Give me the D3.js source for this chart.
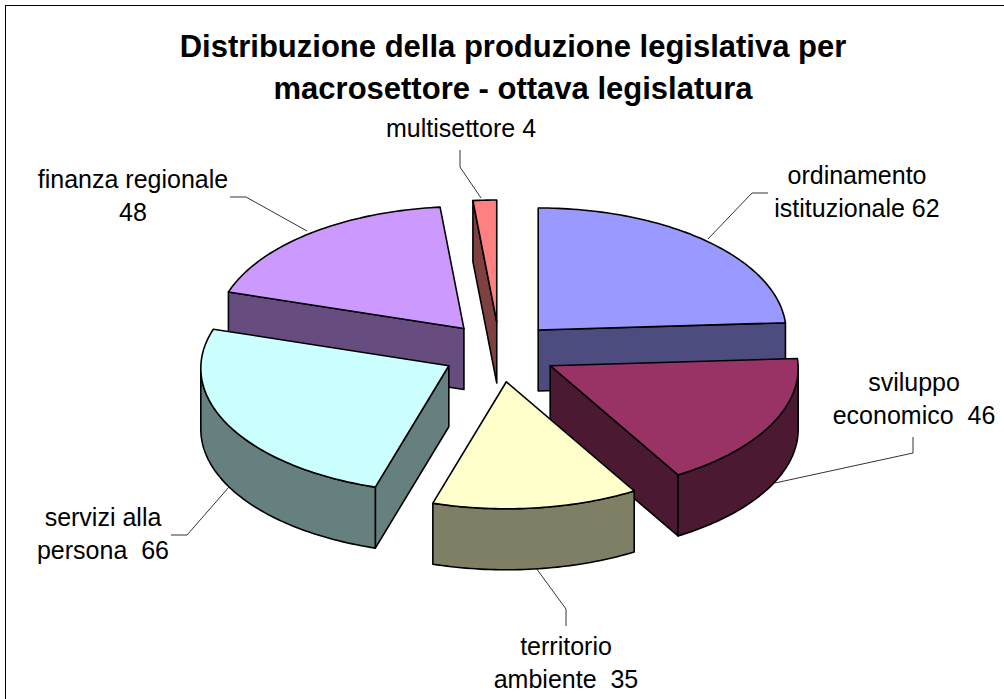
<!DOCTYPE html>
<html>
<head>
<meta charset="utf-8">
<script src="https://cdn.jsdelivr.net/npm/d3@7"></script>
<style>
  body { margin: 0; background: white; }
  text { font-family: "Liberation Sans", Arial, sans-serif; fill: black; white-space: pre; }
</style>
</head>
<body>
<div id="container"></div>
<script>
let w = 1004;
let h = 699;

// data, clockwise from 12 o'clock
let categories = ["ordinamento istituzionale", "sviluppo economico", "territorio ambiente", "servizi alla persona", "finanza regionale", "multisettore"];
let values = [62, 46, 35, 66, 48, 4];
let topColors = ["#9999ff", "#993366", "#ffffcc", "#ccffff", "#cc99ff", "#ff8080"];
let sideColors = ["#4c4c7f", "#4c1933", "#7f7f66", "#667f7f", "#664c7f", "#7f4040"];
let titleLines = ["Distribuzione della produzione legislativa per", "macrosettore - ottava legislatura"];
let labelLines = [
  ["ordinamento", "istituzionale 62"],
  ["sviluppo", "economico  46"],
  ["territorio", "ambiente  35"],
  ["servizi alla", "persona  66"],
  ["finanza regionale", "48"],
  ["multisettore 4"]
];

// layout of labels and leader lines
let labelX = [857, 914, 566, 103, 133, 461];
let labelY = [184, 391, 655, 526, 188, 137];
let leaders = [
  [[708, 239], [752, 193], [768, 193]],
  [[775, 483], [913, 453], [913, 437]],
  [[536, 568], [566, 609], [566, 626]],
  [[229, 487], [187, 535], [171, 535]],
  [[307, 231], [246, 197], [230, 197]],
  [[481, 198], [460, 167], [460, 150]]
];

let cx = 499.5;
let cy = 352;
let rx = 248;
let ryBack = 122;   // the near half of the pie looks a bit bigger
let ryFront = 127;
let depth = 61;
let explodeX = 57;
let explodeY = 30;

let viz = d3.select("#container")
  .append("svg")
    .attr("width", w)
    .attr("height", h)
    .style("display", "block")
;

// chart frame, runs off the window at the bottom
viz.append("rect")
    .attr("x", 5.5)
    .attr("y", 5.5)
    .attr("width", w + 20)
    .attr("height", h + 20)
    .attr("fill", "white")
    .attr("stroke", "black")
    .attr("stroke-width", 1)
;

let xScale = d3.scaleLinear().domain([-1, 1]).range([-rx, rx]);
let yScale = d3.scaleLinear().domain([-1, 1]).range([ryFront, -ryBack]);
let xExplode = d3.scaleLinear().domain([-1, 1]).range([-explodeX, explodeX]);
let yExplode = d3.scaleLinear().domain([-1, 1]).range([explodeY, -explodeY]);

let pie = d3.pie().sort(null).value((d) => d);
let arcs = pie(values);

let line = d3.line();

function rim(a) {
  return [xScale(Math.sin(a)), yScale(Math.cos(a))];
}
function down(p) {
  return [p[0], p[1] + depth];
}
function arcPoints(a0, a1) {
  let n = Math.max(2, Math.ceil((a1 - a0) / 0.02));
  return d3.range(n + 1).map((k) => rim(a0 + (a1 - a0) * k / n));
}

// back to front
let drawOrder = [5, 4, 0, 3, 1, 2];

drawOrder.forEach((i) => {
  let a0 = arcs[i].startAngle;
  let a1 = arcs[i].endAngle;
  let mid = (a0 + a1) / 2;
  let g = viz.append("g")
      .attr("class", "slice")
      .attr("transform", "translate(" + (cx + xExplode(Math.sin(mid))) + "," + (cy + yExplode(Math.cos(mid))) + ")")
  ;
  let draw = (pts, fill) => {
    g.append("path")
      .attr("d", line(pts) + "Z")
      .attr("fill", fill)
      .attr("stroke", "black")
      .attr("stroke-width", 1.6)
      .attr("stroke-linejoin", "round");
  };

  // cut faces, only those turned to the viewer
  if (Math.sin(a0) < 0) {
    let p = rim(a0);
    draw([[0, 0], p, down(p), down([0, 0])], sideColors[i]);
  }
  if (Math.sin(a1) > 0.001) {
    let p = rim(a1);
    draw([[0, 0], p, down(p), down([0, 0])], sideColors[i]);
  }
  // outer wall, front half of the rim
  let from = Math.max(a0, Math.PI / 2);
  let to = Math.min(a1, Math.PI * 1.5);
  if (to > from) {
    let edge = arcPoints(from, to);
    draw(edge.concat(edge.map(down).reverse()), sideColors[i]);
  }
  // top
  draw([[0, 0]].concat(arcPoints(a0, a1)), topColors[i]);
});

// leader lines
viz.selectAll(".leader").data(leaders).enter()
  .append("path")
    .attr("class", "leader")
    .attr("d", (d) => line(d))
    .attr("fill", "none")
    .attr("stroke", "black")
    .attr("stroke-width", 0.8)
;

// labels
let labels = viz.selectAll(".label").data(labelLines).enter()
  .append("text")
    .attr("class", "label")
    .attr("text-anchor", "middle")
    .style("font-size", "25px")
;
labels.selectAll("tspan").data((d, i) => d.map((s) => ({ s: s, i: i }))).enter()
  .append("tspan")
    .attr("x", (d) => labelX[d.i])
    .attr("y", (d, k) => labelY[d.i] + k * 33)
    .text((d) => d.s)
;

// title
viz.selectAll(".title").data(titleLines).enter()
  .append("text")
    .attr("class", "title")
    .attr("x", 513)
    .attr("y", (d, i) => 57 + i * 42)
    .attr("text-anchor", "middle")
    .style("font-size", "31px")
    .style("font-weight", "bold")
    .text((d) => d)
;
</script>
</body>
</html>
